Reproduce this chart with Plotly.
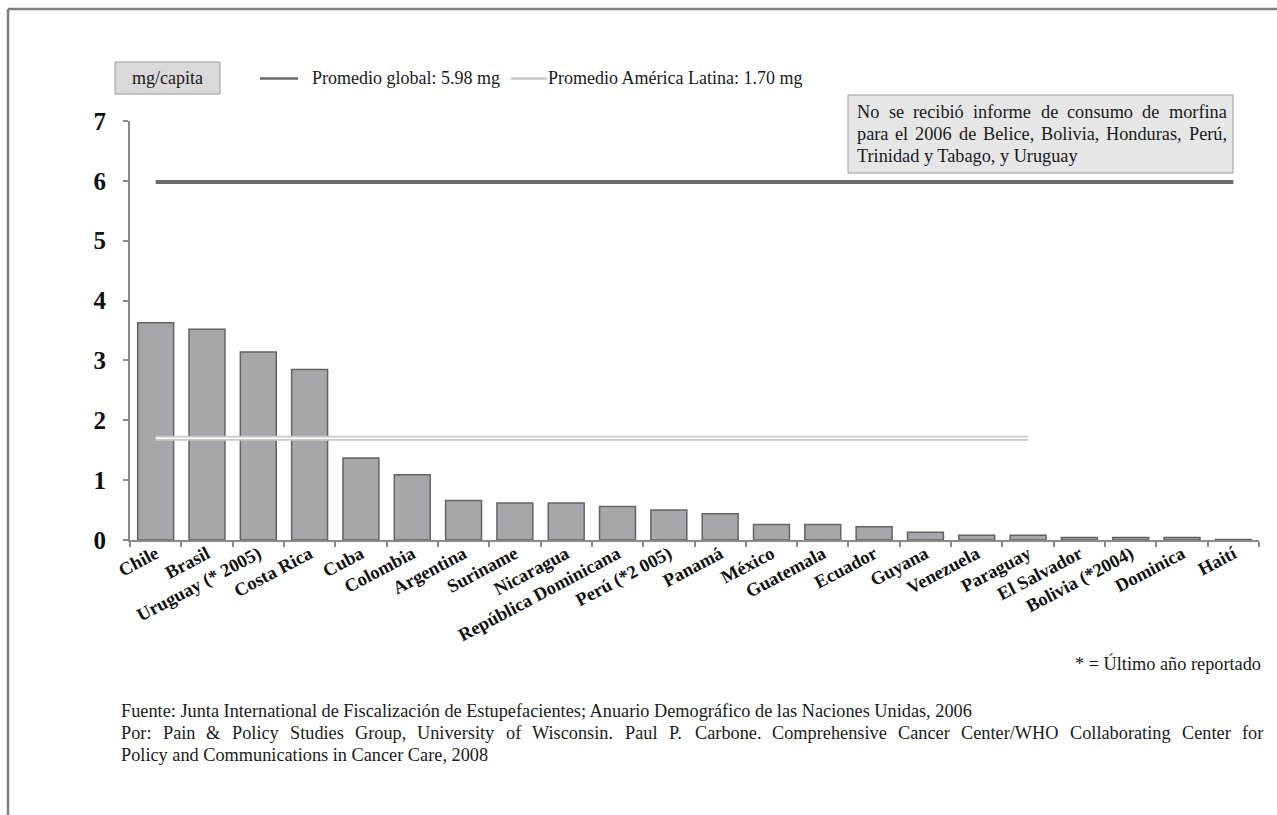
import plotly.graph_objects as go

# Consumo de morfina en América Latina (mg/capita)
paises = [
    "Chile", "Brasil", "Uruguay (* 2005)", "Costa Rica", "Cuba", "Colombia",
    "Argentina", "Suriname", "Nicaragua", "República Dominicana", "Perú (*2 005)",
    "Panamá", "México", "Guatemala", "Ecuador", "Guyana", "Venezuela", "Paraguay",
    "El Salvador", "Bolivia (*2004)", "Dominica", "Haití",
]
mg_capita = [
    3.63, 3.52, 3.14, 2.85, 1.37, 1.09,
    0.66, 0.62, 0.62, 0.56, 0.50,
    0.44, 0.26, 0.26, 0.22, 0.13, 0.08, 0.08,
    0.04, 0.04, 0.04, 0.01,
]

promedio_global = 5.98
promedio_al = 1.70
tramo_global = ["Chile", "Haití"]
tramo_al = ["Chile", "Paraguay"]

y_ticks = [0, 1, 2, 3, 4, 5, 6, 7]

nota_lineas = [
    "No se recibió informe de consumo de morfina",
    "para el 2006 de Belice, Bolivia, Honduras, Perú,",
    "Trinidad y Tabago, y Uruguay",
]
fuente_lineas = [
    "Fuente: Junta International de Fiscalización de Estupefacientes; "
    "Anuario Demográfico de las Naciones Unidas, 2006",
    "Por: Pain & Policy Studies Group, University of Wisconsin. Paul P. Carbone. "
    "Comprehensive Cancer Center/WHO Collaborating Center for",
    "Policy and Communications in Cancer Care, 2008",
]

W, H = 1277, 815
L, R, T, B = 130, 1259, 121, 540  # plot area in pixels


def px(x):
    return (x - L) / (R - L)


def py(y):
    return (B - y) / (B - T)


# Times-Roman advance widths (1/1000 em) used to lay out justified lines
_TIMES = {" ": 250, "&": 778, ",": 250, ".": 250, "/": 278, ":": 278, ";": 278,
          "(": 333, ")": 333, "*": 500}
_TIMES.update({d: 500 for d in "0123456789"})
_TIMES.update(dict(zip("ABCDEFGHIJKLMNOPQRSTUVWXYZ",
                       [722, 667, 667, 722, 611, 556, 722, 722, 333, 389, 722, 611, 889,
                        722, 722, 556, 722, 667, 556, 611, 722, 722, 944, 722, 722, 611])))
_TIMES.update(dict(zip("abcdefghijklmnopqrstuvwxyz",
                       [444, 500, 444, 500, 444, 333, 500, 500, 278, 278, 500, 278, 778,
                        500, 500, 500, 500, 333, 389, 278, 500, 500, 722, 500, 500, 444])))
_TIMES.update({"á": 444, "é": 444, "í": 278, "ó": 500, "ú": 500, "ñ": 500, "Ú": 722})


def ancho(texto, size):
    return sum(_TIMES.get(c, 500) for c in texto) * size / 1000.0


def html(texto):
    return texto.replace("&", "&amp;")


def justificar(linea, x0, x1, y, size):
    palabras = linea.split(" ")
    libre = (x1 - x0) - sum(ancho(p, size) for p in palabras)
    hueco = libre / (len(palabras) - 1)
    x = x0
    out = []
    for p in palabras:
        out.append(dict(text=html(p), x=px(x), y=py(y), xanchor="left", yanchor="middle",
                        font=dict(size=size, color=TXT), borderpad=0))
        x += ancho(p, size) + hueco
    return out


SERIF = "Times New Roman, Liberation Serif, serif"
GRIS_EJE = "#8a8a8a"
TXT = "#1a1a1a"

fig = go.Figure()

fig.add_trace(go.Bar(
    x=paises, y=mg_capita,
    marker=dict(color="#a7a7ab", line=dict(color="#636363", width=1.5)),
    showlegend=False, hoverinfo="x+y",
))

# Promedio global
fig.add_trace(go.Scatter(
    x=tramo_global, y=[promedio_global] * 2, mode="lines",
    line=dict(color="#6a6a6a", width=4), showlegend=False, hoverinfo="skip",
))
# Promedio América Latina (línea doble: borde gris claro, centro blanco)
fig.add_trace(go.Scatter(
    x=tramo_al, y=[promedio_al] * 2, mode="lines",
    line=dict(color="#c9c9c9", width=5), showlegend=False, hoverinfo="skip",
))
fig.add_trace(go.Scatter(
    x=tramo_al, y=[promedio_al] * 2, mode="lines",
    line=dict(color="#ffffff", width=1.6), showlegend=False, hoverinfo="skip",
))

shapes = [
    # marco exterior
    dict(type="line", xref="paper", yref="paper", x0=px(8), x1=px(W + 5),
         y0=py(9), y1=py(9), line=dict(color="#7f7f7f", width=2.5)),
    dict(type="line", xref="paper", yref="paper", x0=px(8), x1=px(8),
         y0=py(9), y1=py(H + 5), line=dict(color="#7f7f7f", width=2.5)),
    # caja de unidades
    dict(type="rect", xref="paper", yref="paper", x0=px(115), x1=px(220),
         y0=py(62), y1=py(94), fillcolor="#d9d9d9", line=dict(color="#9a9a9a", width=1)),
    # muestras de leyenda
    dict(type="line", xref="paper", yref="paper", x0=px(260), x1=px(298),
         y0=py(78.5), y1=py(78.5), line=dict(color="#6a6a6a", width=2.5)),
    dict(type="line", xref="paper", yref="paper", x0=px(511), x1=px(547),
         y0=py(78.5), y1=py(78.5), line=dict(color="#c9c9c9", width=2.5)),
    # caja de nota
    dict(type="rect", xref="paper", yref="paper", x0=px(848), x1=px(1233),
         y0=py(95), y1=py(173), fillcolor="#e6e6e6", line=dict(color="#9a9a9a", width=1)),
]

LEY = 18
NOTA = 18.3
annotations = [
    dict(text="mg/capita", x=px(167.5), y=py(78), xanchor="center", yanchor="middle",
         font=dict(size=LEY, color=TXT)),
    dict(text="Promedio global: 5.98 mg", x=px(310), y=py(78), xanchor="left",
         yanchor="middle", font=dict(size=LEY, color=TXT)),
    dict(text="Promedio América Latina: 1.70 mg", x=px(546), y=py(78), xanchor="left",
         yanchor="middle", font=dict(size=LEY, color=TXT)),
    dict(text="* = Último año reportado", x=px(1263), y=py(663), xanchor="right",
         yanchor="middle", font=dict(size=NOTA, color=TXT)),
]
# nota en caja (justificada salvo la última línea)
annotations += justificar(nota_lineas[0], 856, 1226, 112, NOTA)
annotations += justificar(nota_lineas[1], 856, 1226, 134, NOTA)
annotations.append(dict(text=nota_lineas[2], x=px(856), y=py(156), xanchor="left",
                        yanchor="middle", font=dict(size=NOTA, color=TXT), borderpad=0))
# fuente
annotations.append(dict(text=html(fuente_lineas[0]), x=px(120), y=py(711), xanchor="left",
                        yanchor="middle", font=dict(size=NOTA, color=TXT), borderpad=0))
annotations += justificar(fuente_lineas[1], 120, 1262, 733, NOTA)
annotations.append(dict(text=fuente_lineas[2], x=px(120), y=py(755), xanchor="left",
                        yanchor="middle", font=dict(size=NOTA, color=TXT), borderpad=0))
for a in annotations:
    a.update(xref="paper", yref="paper", showarrow=False)

fig.update_layout(
    width=W, height=H,
    margin=dict(l=L, r=W - R, t=T, b=H - B, pad=0),
    paper_bgcolor="white", plot_bgcolor="white",
    font=dict(family=SERIF, color=TXT),
    bargap=0.3,
    shapes=shapes, annotations=annotations,
    xaxis=dict(
        type="category", categoryorder="array", categoryarray=paises,
        range=[-0.5, len(paises) - 0.5],
        showline=True, linecolor=GRIS_EJE, linewidth=2,
        ticks="outside", tickson="boundaries", ticklen=5, tickcolor=GRIS_EJE,
        tickwidth=1.5, tickangle=-28, showgrid=False, zeroline=False,
        ticklabelstandoff=-6,
        tickfont=dict(size=18.5, family=SERIF, color="#111", weight="bold"),
    ),
    yaxis=dict(
        range=[0, 7], tickvals=y_ticks, ticktext=[str(v) for v in y_ticks],
        showline=True, linecolor=GRIS_EJE, linewidth=2,
        ticks="outside", ticklen=5, tickcolor=GRIS_EJE, tickwidth=1.5,
        showgrid=False, zeroline=False, ticklabelstandoff=12,
        tickfont=dict(size=25, family=SERIF, color="#111", weight="bold"),
    ),
)

fig.write_html("out.html")
